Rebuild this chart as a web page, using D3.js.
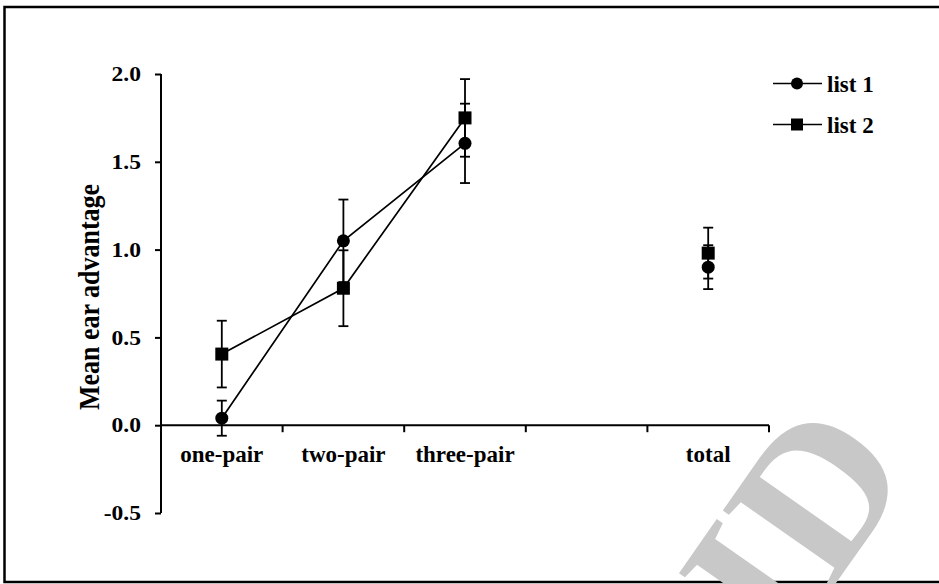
<!DOCTYPE html>
<html>
<head>
<meta charset="utf-8">
<script src="https://cdn.jsdelivr.net/npm/d3@7"></script>
<style>
  html, body { margin: 0; padding: 0; background: #fff; }
  svg { display: block; }
  text { font-family: "Liberation Serif", "Times New Roman", serif; font-weight: bold; fill: #000; }
</style>
</head>
<body>
<svg id="chart" width="939" height="584"></svg>
<script>
// ---- data ----
const categories = ["one-pair", "two-pair", "three-pair", " ", "total"];
const list1 = [0.04, 1.05, 1.605, null, 0.90];
const list1Err = [0.10, 0.235, 0.226, null, 0.125];
const list2 = [0.405, 0.78, 1.75, null, 0.98];
const list2Err = [0.19, 0.216, 0.221, null, 0.145];
const yTicks = [-0.5, 0.0, 0.5, 1.0, 1.5, 2.0];
const seriesNames = ["list 1", "list 2"];
const yTitle = "Mean ear advantage";
const watermark = "CID";

// ---- setup ----
const svg = d3.select("#chart");
const x = d3.scaleBand().domain(categories).range([161, 769]).padding(0);
const y = d3.scaleLinear().domain([-0.5, 2.0]).range([513, 74]);

// outer border
svg.append("rect").attr("x", 4.5).attr("y", 7).attr("width", 960).attr("height", 575)
  .attr("fill", "none").attr("stroke", "#000").attr("stroke-width", 2.5);

// watermark
svg.append("text").attr("transform", "translate(700,777) rotate(-55)")
  .style("font-family", "Liberation Serif").style("font-weight", "bold")
  .style("font-size", "205px").style("fill", "#c8c8c8").text(watermark);

function stretch(sel, f) {
  sel.each(function () {
    const w = this.getComputedTextLength();
    d3.select(this).attr("textLength", w * f).attr("lengthAdjust", "spacingAndGlyphs");
  });
}

// y axis
const yAxis = svg.append("g").attr("transform", "translate(161,0)")
  .call(d3.axisLeft(y).tickValues(yTicks).tickSize(6).tickPadding(14).tickFormat(d => d.toFixed(1)));
yAxis.select(".domain").attr("stroke-width", 2).attr("d", `M0,${y(-0.5)}V${y(2.0)}`);
yAxis.selectAll(".tick line").attr("stroke-width", 2);
yAxis.selectAll(".tick text").style("font-size", "21px").style("font-family", "Liberation Serif").style("font-weight", "bold");
stretch(yAxis.selectAll(".tick text"), 1.12);

// x axis
const y0 = y(0);
svg.append("line").attr("x1", x.range()[0]).attr("x2", x.range()[1]).attr("y1", y0).attr("y2", y0)
  .attr("stroke", "#000").attr("stroke-width", 2);
const bounds = categories.slice(1).map(c => x(c)).concat([x.range()[1]]);
svg.selectAll(".xtick").data(bounds).enter().append("line")
  .attr("x1", d => d).attr("x2", d => d).attr("y1", y0).attr("y2", y0 + 7)
  .attr("stroke", "#000").attr("stroke-width", 2);
svg.selectAll(".xlab").data(categories).enter().append("text")
  .attr("x", d => x(d) + x.bandwidth() / 2).attr("y", y0 + 37)
  .attr("text-anchor", "middle").style("font-size", "23px").text(d => d.trim());

// y title
svg.append("text").attr("transform", `translate(99,297) rotate(-90) scale(1,1.15)`)
  .attr("text-anchor", "middle").style("font-size", "26px").text(yTitle);

// series
const cx = i => x(categories[i]) + x.bandwidth() / 2;
const series = [
  { name: seriesNames[0], vals: list1, err: list1Err, shape: "circle" },
  { name: seriesNames[1], vals: list2, err: list2Err, shape: "square" }
];
const line = d3.line().defined(d => d.v !== null && d.i < 3).x(d => cx(d.i)).y(d => y(d.v));

series.forEach(s => {
  const pts = s.vals.map((v, i) => ({ v, i, e: s.err[i] }));
  svg.append("path").datum(pts).attr("d", line).attr("fill", "none")
    .attr("stroke", "#000").attr("stroke-width", 1.7);
});

series.forEach(s => {
  const pts = s.vals.map((v, i) => ({ v, i, e: s.err[i] })).filter(d => d.v !== null);
  const g = svg.append("g");
  pts.forEach(d => {
    const px = cx(d.i);
    g.append("line").attr("x1", px).attr("x2", px)
      .attr("y1", y(d.v + d.e)).attr("y2", y(d.v - d.e))
      .attr("stroke", "#000").attr("stroke-width", 1.8);
    [d.v + d.e, d.v - d.e].forEach(val => {
      g.append("line").attr("x1", px - 5).attr("x2", px + 5)
        .attr("y1", y(val)).attr("y2", y(val))
        .attr("stroke", "#000").attr("stroke-width", 1.8);
    });
  });
});

function marker(g, shape, px, py, size) {
  if (shape === "circle") {
    g.append("circle").attr("cx", px).attr("cy", py).attr("r", size / 2).attr("fill", "#000");
  } else {
    g.append("rect").attr("x", px - size / 2).attr("y", py - size / 2)
      .attr("width", size).attr("height", size).attr("fill", "#000");
  }
}

series.forEach(s => {
  const g = svg.append("g");
  s.vals.forEach((v, i) => { if (v !== null) marker(g, s.shape, cx(i), y(v), 13); });
});

// legend
series.forEach((s, k) => {
  const ly = 83.5 + k * 41;
  const g = svg.append("g");
  g.append("line").attr("x1", 773).attr("x2", 822).attr("y1", ly).attr("y2", ly)
    .attr("stroke", "#000").attr("stroke-width", 1.7);
  marker(g, s.shape, 797, ly, 12);
  g.append("text").attr("x", 827).attr("y", ly + 8).style("font-size", "23px").text(s.name);
});
</script>
</body>
</html>
